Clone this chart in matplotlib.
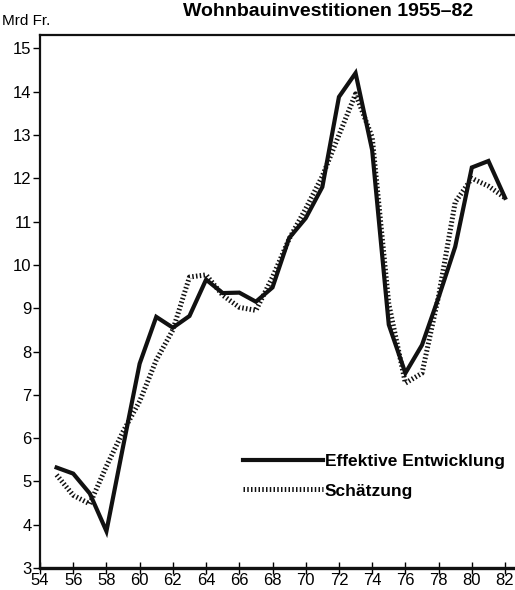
import matplotlib
matplotlib.use("Agg")
from matplotlib import pyplot as plt

# Wohnbauinvestitionen, Mrd Fr., effektiv vs. geschaetzt
years = list(range(1955, 1983))
effektiv = [5.32, 5.18, 4.72, 3.85, 5.8, 7.72, 8.8, 8.55, 8.82, 9.66,
            9.35, 9.36, 9.15, 9.48, 10.62, 11.08, 11.8, 13.88, 14.43, 12.65,
            8.62, 7.5, 8.15, 9.25, 10.42, 12.25, 12.4, 11.55]
schaetzung = [5.15, 4.68, 4.48, 5.35, 6.15, 6.85, 7.8, 8.5, 9.72, 9.77,
              9.3, 9.02, 8.95, 9.72, 10.6, 11.3, 12.05, 13.0, 13.95, 12.95,
              9.1, 7.27, 7.5, 9.28, 11.45, 12.0, 11.82, 11.55]

x_ticks = list(range(1954, 1983, 2))
x_labels = [str(y % 100) for y in x_ticks]
y_ticks = list(range(3, 16))

plt.rcParams['font.family'] = ['Liberation Sans', 'DejaVu Sans']

fig = plt.figure(figsize=(5.15, 5.9), dpi=100)
ax = fig.add_axes([40 / 515, 22 / 590, 475 / 515, 533 / 590])

ax.plot(years, effektiv, color='#111111', lw=3.0, solid_joinstyle='miter',
        label='Effektive Entwicklung')
ax.plot(years, schaetzung, color='#111111', lw=3.6, linestyle=(0, (0.3, 0.45)),
        dash_capstyle='butt', label='Schätzung')

ax.set_xlim(1954, 1982.6)
ax.set_ylim(3, 15.31)
ax.set_xticks(x_ticks)
ax.set_xticklabels(x_labels)
ax.set_yticks(y_ticks)

ax.spines['right'].set_visible(False)
for s in ['left', 'top', 'bottom']:
    ax.spines[s].set_linewidth(1.6)
    ax.spines[s].set_color('#111111')
ax.spines['bottom'].set_linewidth(2.4)

ax.tick_params(axis='x', direction='inout', length=9, width=1.0, pad=-1,
               labelsize=12)
ax.tick_params(axis='y', direction='out', length=5, width=1.0, pad=1,
               labelsize=12)

ax.legend(loc='center left', bbox_to_anchor=(243 / 515, 1 - 476 / 590),
          bbox_transform=fig.transFigure, frameon=False,
          prop={'size': 12.5, 'weight': 'bold'},
          handlelength=4.6, handletextpad=0.1, labelspacing=0.85,
          borderpad=0, borderaxespad=0)

fig.text(0.637, 1 - 16 / 590, 'Wohnbauinvestitionen 1955–82', ha='center',
         va='baseline', fontsize=14, fontweight='bold')
fig.text(0.004, 1 - 25 / 590, 'Mrd Fr.', ha='left', va='baseline',
         fontsize=11)

fig.savefig('out.png', dpi=100)
